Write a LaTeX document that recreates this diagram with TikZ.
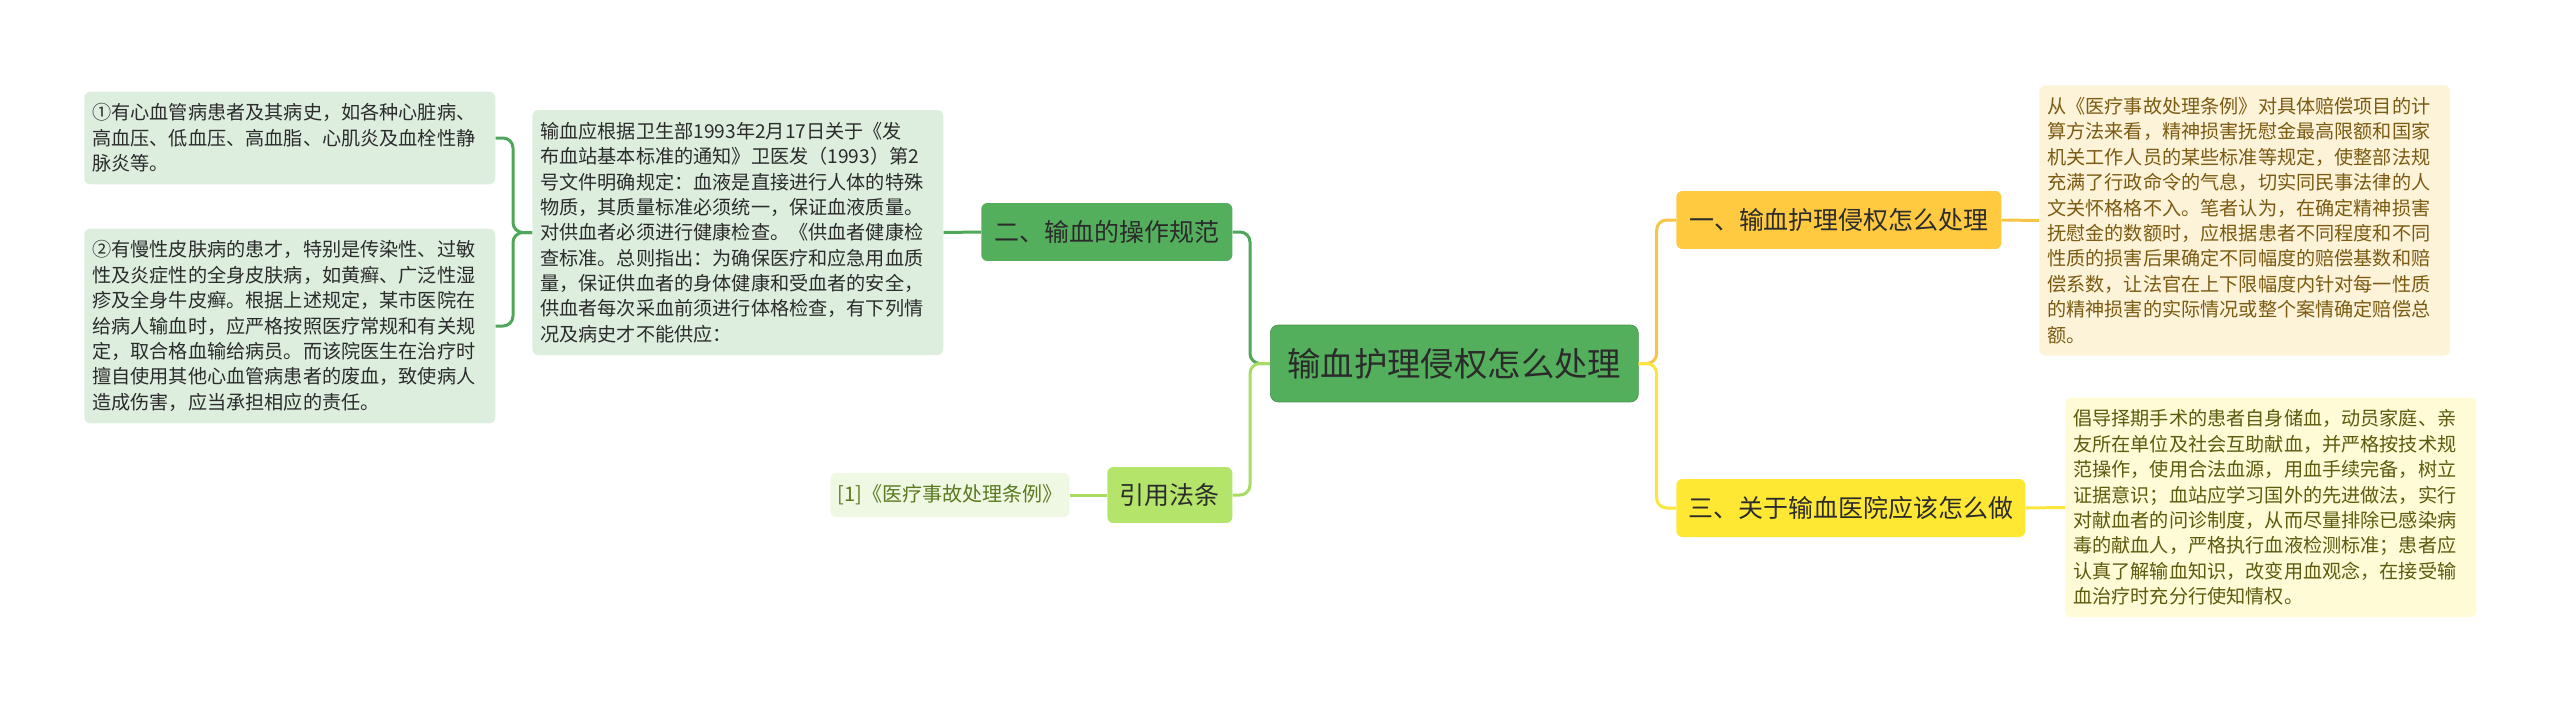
\documentclass[tikz,border=0pt]{standalone}
\usepackage{fontspec}
\setmainfont{Noto Sans CJK SC}
\usepackage{tikz}
\definecolor{txtDark}{HTML}{2B2B2B}
\definecolor{mainGreen}{HTML}{54AF5C}
\definecolor{paleGreen}{HTML}{DDEEDF}
\definecolor{limeFill}{HTML}{B4E469}
\definecolor{refFill}{HTML}{EFF8E3}
\definecolor{refText}{HTML}{5A7A20}
\definecolor{orangeFill}{HTML}{FFC940}
\definecolor{yellowFill}{HTML}{FFE834}
\definecolor{creamOne}{HTML}{FDF3D9}
\definecolor{creamTwo}{HTML}{FEFBD6}
\definecolor{brownText}{HTML}{7B5B12}
\definecolor{oliveText}{HTML}{5E5A0E}
\definecolor{lnGreen}{HTML}{4FA85A}
\definecolor{lnLime}{HTML}{A9DA63}
\definecolor{lnOrange}{HTML}{F7C545}
\definecolor{lnYellow}{HTML}{FCE53C}

\begin{document}
\begin{tikzpicture}[x=0.02cm, y=-0.02cm,
  note/.style={anchor=west, rounded corners=0.12cm, text width=7.9cm, inner xsep=0.16cm, inner ysep=0.24cm, align=left, text=txtDark, font=\fontsize{10.9}{14.45}\selectfont},
  topic/.style={anchor=west, rounded corners=0.12cm, minimum height=1.16cm, inner xsep=0pt, text=txtDark, font=\fontsize{14.2}{17}\selectfont},
  link/.style={line width=0.06cm, rounded corners=0.2cm}]
  \useasboundingbox (0,0) rectangle (2560,703);

  % root
  \node[topic, fill=mainGreen, draw=mainGreen!85!black, line width=0.4pt, minimum width=7.36cm, minimum height=1.54cm, rounded corners=0.16cm, font=\fontsize{19}{23}\selectfont] (root) at (1270,363.5) {输血护理侵权怎么处理};

  % left side
  \node[topic, fill=mainGreen, minimum width=5.02cm] (er) at (981,232) {二、输血的操作规范};
  \node[note, fill=paleGreen] (rule) at (532,232.5) {输血应根据卫生部1993年2月17日关于《发\\布血站基本标准的通知》卫医发（1993）第2\\号文件明确规定：血液是直接进行人体的特殊\\物质，其质量标准必须统一，保证血液质量。\\对供血者必须进行健康检查。《供血者健康检\\查标准。总则指出：为确保医疗和应急用血质\\量，保证供血者的身体健康和受血者的安全，\\供血者每次采血前须进行体格检查，有下列情\\况及病史才不能供应：};
  \node[note, fill=paleGreen] (c1) at (84,138) {①有心血管病患者及其病史，如各种心脏病、\\高血压、低血压、高血脂、心肌炎及血栓性静\\脉炎等。};
  \node[note, fill=paleGreen] (c2) at (84,326) {②有慢性皮肤病的患才，特别是传染性、过敏\\性及炎症性的全身皮肤病，如黄癣、广泛性湿\\疹及全身牛皮癣。根据上述规定，某市医院在\\给病人输血时，应严格按照医疗常规和有关规\\定，取合格血输给病员。而该院医生在治疗时\\擅自使用其他心血管病患者的废血，致使病人\\造成伤害，应当承担相应的责任。};
  \node[topic, fill=limeFill, minimum width=2.5cm, minimum height=1.12cm] (yy) at (1107,495) {引用法条};
  \node[topic, fill=refFill, text=refText, minimum width=4.78cm, minimum height=0.88cm, font=\fontsize{11.4}{13}\selectfont] (ref) at (830,495) {[1]《医疗事故处理条例》};

  % right side
  \node[topic, fill=orangeFill, minimum width=6.5cm] (yi) at (1676,220) {一、输血护理侵权怎么处理};
  \node[note, fill=creamOne, text=brownText] (r1) at (2039,220.5) {从《医疗事故处理条例》对具体赔偿项目的计\\算方法来看，精神损害抚慰金最高限额和国家\\机关工作人员的某些标准等规定，使整部法规\\充满了行政命令的气息，切实同民事法律的人\\文关怀格格不入。笔者认为，在确定精神损害\\抚慰金的数额时，应根据患者不同程度和不同\\性质的损害后果确定不同幅度的赔偿基数和赔\\偿系数，让法官在上下限幅度内针对每一性质\\的精神损害的实际情况或整个案情确定赔偿总\\额。};
  \node[topic, fill=yellowFill, minimum width=6.98cm] (san) at (1676,508) {三、关于输血医院应该怎么做};
  \node[note, fill=creamTwo, text=oliveText] (r2) at (2065,507.5) {倡导择期手术的患者自身储血，动员家庭、亲\\友所在单位及社会互助献血，并严格按技术规\\范操作，使用合法血源，用血手续完备，树立\\证据意识；血站应学习国外的先进做法，实行\\对献血者的问诊制度，从而尽量排除已感染病\\毒的献血人，严格执行血液检测标准；患者应\\认真了解输血知识，改变用血观念，在接受输\\血治疗时充分行使知情权。};

  % connectors
  \draw[link, lnGreen] (root.west) -- ++(-20,0) |- (er.east);
  \draw[link, lnLime] (root.west) -- ++(-20,0) |- (yy.east);
  \draw[link, lnOrange] (root.east) -- ++(18,0) |- (yi.west);
  \draw[link, lnYellow] (root.east) -- ++(18,0) |- (san.west);
  \draw[link, lnGreen] (er.west) -- (rule.east);
  \draw[link, lnGreen] (rule.west) -- ++(-19,0) |- (c1.east);
  \draw[link, lnGreen] (rule.west) -- ++(-19,0) |- (c2.east);
  \draw[link, lnLime] (yy.west) -- (ref.east);
  \draw[link, lnOrange] (yi.east) -- (r1.west);
  \draw[link, lnYellow] (san.east) -- (r2.west);
\end{tikzpicture}
\end{document}
